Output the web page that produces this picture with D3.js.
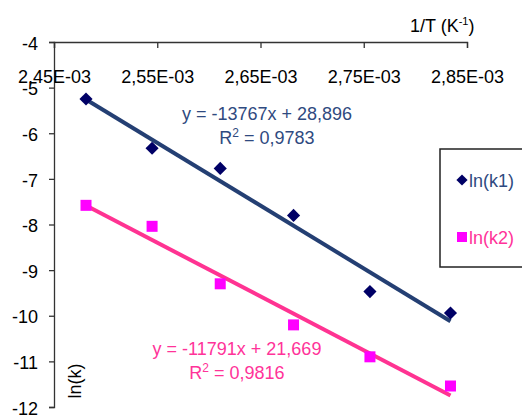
<!DOCTYPE html>
<html>
<head>
<meta charset="utf-8">
<script src="https://cdn.jsdelivr.net/npm/d3@7"></script>
<style>
  body { margin: 0; background: #fff; }
  svg { display: block; font-family: "Liberation Sans", Arial, sans-serif; }
</style>
</head>
<body>
<svg width="522" height="417"></svg>
<script>
// Data
var invT = [0.002481, 0.002545, 0.002611, 0.002682, 0.002756, 0.002834];
var lnK1 = [-5.25, -6.33, -6.77, -7.80, -9.47, -9.94];
var lnK2 = [-7.58, -8.04, -9.30, -10.20, -10.90, -11.54];
var xTicks = [0.00245, 0.00255, 0.00265, 0.00275, 0.00285];
var yTicks = [-4, -5, -6, -7, -8, -9, -10, -11, -12];
// trendline coefficients (slope, intercept) from the chart labels
var fit1 = [-13767, 28.896];
var fit2 = [-11791, 21.669];
var eq1 = ["y = -13767x + 28,896", "0,9783"];
var eq2 = ["y = -11791x + 21,669", "0,9816"];

var navyLine = "#243f73", navyMark = "#000066", navyText = "#2f4a80";
var pinkLine = "#ff3392", pinkMark = "#ff00ff", pinkText = "#ff3399";

var svg = d3.select("svg");
var x = d3.scaleLinear().domain([0.00245, 0.00285]).range([54, 467]);
var y = d3.scaleLinear().domain([-12, -4]).range([407, 42]);

// Y axis
var yAxis = svg.append("g")
  .attr("transform", "translate(54,0)")
  .call(d3.axisLeft(y).tickValues(yTicks).tickSize(5).tickPadding(11)
    .tickFormat(function(d) { return String(d); }));
yAxis.selectAll("text").attr("font-size", 18).attr("fill", "#000").attr("dy", "0.4em")
  .attr("font-family", "Liberation Sans, Arial, sans-serif");

// X axis along the top, ticks pointing down, labels below
var xAxis = svg.append("g")
  .attr("transform", "translate(0,42)")
  .call(d3.axisBottom(x).tickValues(xTicks).tickSize(6).tickPadding(22)
    .tickFormat(function(d) { return (d * 1000).toFixed(2).replace(".", ",") + "E-03"; }));
xAxis.selectAll("text").attr("font-size", 18).attr("fill", "#000")
  .attr("font-family", "Liberation Sans, Arial, sans-serif");
svg.selectAll(".domain, .tick line").attr("stroke", "#333").attr("stroke-width", 1.3);

// Axis titles
var xt = svg.append("text").attr("x", 410).attr("y", 32).attr("font-size", 18).attr("fill", "#000");
xt.append("tspan").text("1/T (K");
xt.append("tspan").attr("font-size", 11).attr("dy", -7).text("-1");
xt.append("tspan").attr("dy", 7).text(")");

svg.append("text")
  .attr("transform", "translate(81,381) rotate(-90)")
  .attr("text-anchor", "middle").attr("font-size", 18).attr("fill", "#000")
  .text("ln(k)");

// Trendlines
function trend(fit, color) {
  var xs = [invT[0], invT[invT.length - 1]];
  svg.append("line")
    .attr("x1", x(xs[0])).attr("y1", y(fit[0] * xs[0] + fit[1]))
    .attr("x2", x(xs[1])).attr("y2", y(fit[0] * xs[1] + fit[1]))
    .attr("stroke", color).attr("stroke-width", 4);
}
trend(fit1, navyLine);
trend(fit2, pinkLine);

// Markers
var pts1 = invT.map(function(d, i) { return { x: d, y: lnK1[i] }; });
var pts2 = invT.map(function(d, i) { return { x: d, y: lnK2[i] }; });

svg.append("g").selectAll("path").data(pts1).enter().append("path")
  .attr("d", d3.symbol().type(d3.symbolDiamond2).size(110))
  .attr("transform", function(d) { return "translate(" + x(d.x) + "," + y(d.y) + ")"; })
  .attr("fill", navyMark);

svg.append("g").selectAll("rect").data(pts2).enter().append("rect")
  .attr("x", function(d) { return x(d.x) - 5.5; })
  .attr("y", function(d) { return y(d.y) - 5.5; })
  .attr("width", 11).attr("height", 11)
  .attr("fill", pinkMark);

// Equation labels
function eq(lines, cx, y0, color) {
  var t = svg.append("text").attr("text-anchor", "middle").attr("font-size", 18).attr("fill", color);
  t.append("tspan").attr("x", cx).attr("y", y0).text(lines[0]);
  var r = svg.append("text").attr("text-anchor", "middle").attr("font-size", 18).attr("fill", color)
    .attr("x", cx).attr("y", y0 + 24);
  r.append("tspan").text("R");
  r.append("tspan").attr("font-size", 12).attr("dy", -7).text("2");
  r.append("tspan").attr("dy", 7).text(" = " + lines[1]);
}
eq(eq1, 267, 120, navyText);
eq(eq2, 237, 355, pinkText);

// Legend
svg.append("rect").attr("x", 440).attr("y", 149).attr("width", 120).attr("height", 118)
  .attr("fill", "#fff").attr("stroke", "#222").attr("stroke-width", 1.5);
svg.append("path").attr("d", d3.symbol().type(d3.symbolDiamond2).size(80))
  .attr("transform", "translate(462,180)").attr("fill", navyMark);
svg.append("text").attr("x", 469).attr("y", 187).attr("font-size", 18).attr("fill", navyText).text("ln(k1)");
svg.append("rect").attr("x", 457).attr("y", 232).attr("width", 10).attr("height", 10).attr("fill", pinkMark);
svg.append("text").attr("x", 469).attr("y", 244).attr("font-size", 18).attr("fill", pinkText).text("ln(k2)");
</script>
</body>
</html>
